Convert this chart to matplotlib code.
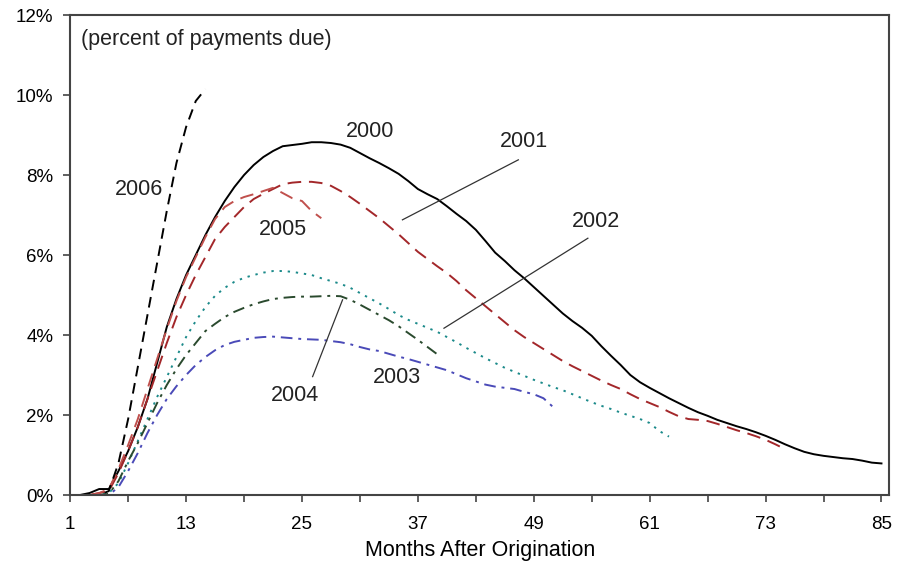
import matplotlib
matplotlib.use("Agg")
import matplotlib.pyplot as plt
import numpy as np

plt.rcParams['font.family'] = ['Liberation Sans', 'DejaVu Sans']

# delinquency rate (percent of payments due) by months after origination
y2000 = [0, 0, 0.05, 0.15, 0.15, 0.6, 1.1, 1.7, 2.4, 3.3, 4.2, 4.9, 5.5, 6.0, 6.5,
         6.95, 7.35, 7.7, 8.0, 8.25, 8.45, 8.6, 8.72, 8.75, 8.78, 8.82, 8.82, 8.8,
         8.76, 8.68, 8.55, 8.42, 8.3, 8.17, 8.03, 7.85, 7.65, 7.52, 7.4, 7.22, 7.03,
         6.85, 6.63, 6.35, 6.06, 5.85, 5.62, 5.42, 5.2, 4.98, 4.76, 4.54, 4.35, 4.18,
         3.98, 3.72, 3.48, 3.25, 3.0, 2.82, 2.68, 2.55, 2.42, 2.3, 2.18, 2.07, 1.98,
         1.88, 1.8, 1.72, 1.65, 1.57, 1.48, 1.38, 1.27, 1.17, 1.08, 1.02, 0.98, 0.95,
         0.92, 0.9, 0.86, 0.81, 0.79]
y2001 = [0, 0, 0, 0.05, 0.1, 0.55, 1.1, 1.7, 2.4, 3.1, 3.8, 4.45, 5.0, 5.5, 5.95,
         6.4, 6.7, 6.95, 7.2, 7.4, 7.53, 7.65, 7.77, 7.81, 7.83, 7.83, 7.8, 7.73,
         7.6, 7.45, 7.28, 7.1, 6.92, 6.72, 6.52, 6.3, 6.08, 5.9, 5.72, 5.55, 5.35,
         5.12, 4.92, 4.72, 4.52, 4.32, 4.12, 3.95, 3.8, 3.65, 3.5, 3.35, 3.22, 3.1,
         2.98, 2.86, 2.75, 2.65, 2.52, 2.4, 2.3, 2.2, 2.08, 1.97, 1.9, 1.88, 1.85,
         1.78, 1.7, 1.62, 1.55, 1.47, 1.38, 1.27, 1.15]
y2002 = [0, 0, 0, 0, 0.05, 0.3, 0.8, 1.35, 1.9, 2.45, 2.95, 3.45, 3.95, 4.35, 4.7,
         4.98, 5.18, 5.33, 5.43, 5.5, 5.56, 5.6, 5.6, 5.58, 5.54, 5.5, 5.42, 5.35,
         5.28, 5.18, 5.05, 4.92, 4.79, 4.65, 4.5, 4.38, 4.28, 4.18, 4.08, 3.95, 3.82,
         3.68, 3.55, 3.42, 3.3, 3.18, 3.08, 2.98, 2.88, 2.79, 2.7, 2.62, 2.52, 2.42,
         2.32, 2.23, 2.15, 2.06, 1.98, 1.9, 1.8, 1.6, 1.46]
y2003 = [0, 0, 0, 0, 0.0, 0.2, 0.6, 1.05, 1.55, 2.0, 2.4, 2.72, 3.0, 3.25, 3.45,
         3.62, 3.75, 3.83, 3.88, 3.93, 3.95, 3.96, 3.94, 3.92, 3.9, 3.89, 3.88, 3.85,
         3.82, 3.77, 3.7, 3.64, 3.6, 3.53, 3.46, 3.4, 3.33, 3.26, 3.19, 3.12, 3.02,
         2.92, 2.84, 2.76, 2.71, 2.68, 2.65, 2.58, 2.52, 2.42, 2.2]
y2004 = [0, 0, 0, 0, 0.03, 0.35, 0.85, 1.3, 1.8, 2.3, 2.75, 3.15, 3.5, 3.8, 4.1,
         4.28, 4.45, 4.58, 4.68, 4.77, 4.84, 4.9, 4.93, 4.95, 4.96, 4.96, 4.97, 4.98,
         4.97, 4.88, 4.76, 4.63, 4.5, 4.37, 4.22, 4.05, 3.88, 3.7, 3.52]
y2005 = [0, 0, 0, 0.05, 0.15, 0.65, 1.25, 1.9, 2.65, 3.4, 4.15, 4.85, 5.45, 5.95,
         6.45, 6.9, 7.2, 7.35, 7.45, 7.52, 7.6, 7.68, 7.55, 7.42, 7.35, 7.1, 6.92]
y2006 = [0, 0, 0, 0, 0.1, 0.8, 1.9, 3.2, 4.5, 5.8, 7.1, 8.3, 9.2, 9.85, 10.15]

series = [
    ("2000", y2000, "black", "-"),
    ("2001", y2001, "#a3272a", (0, (7, 4))),
    ("2002", y2002, "#1b8a8a", (0, (1.2, 3))),
    ("2003", y2003, "#4a4ab8", (0, (6, 3, 1.5, 3))),
    ("2004", y2004, "#2a4a2e", (0, (6, 3, 1.5, 3))),
    ("2005", y2005, "#c0504d", (0, (7, 4))),
    ("2006", y2006, "black", (0, (5.5, 3.5))),
]

# label text positions (month, pct)
labels = {"2000": (32.0, 9.1), "2001": (48.0, 8.85), "2002": (55.4, 6.85),
          "2003": (34.8, 2.95), "2004": (24.3, 2.5), "2005": (23.0, 6.65),
          "2006": (8.1, 7.65)}
# leader lines: (label end, curve end)
leaders = {"2001": ((47.4, 8.38), (35.4, 6.88)),
           "2002": ((54.6, 6.42), (39.7, 4.17)),
           "2004": ((29.2, 4.88), (26.1, 2.96))}

fig = plt.figure(figsize=(9, 5.69), dpi=100)
ax = fig.add_axes([0.078, 0.13, 0.91, 0.8436])

for name, vals, col, ls in series:
    months = np.arange(1, len(vals) + 1)
    ax.plot(months, vals, color=col, linestyle=ls, linewidth=1.4)

for name, (lx, ly) in labels.items():
    ax.text(lx, ly, name, fontsize=15.5, ha="center", va="center", color="#222222")

for name, (p0, p1) in leaders.items():
    ax.plot([p0[0], p1[0]], [p0[1], p1[1]], color="#333333", linewidth=0.9)

ax.text(2.1, 11.38, "(percent of payments due)", fontsize=15.5, ha="left",
        va="center", color="#222222")

ax.set_xlim(1, 85.8)
ax.set_ylim(0, 12)
ax.set_xticks(np.arange(1, 86, 12))
ax.set_xticks(np.arange(7, 86, 12), minor=True)
ax.set_yticks(np.arange(0, 13, 2))
ax.set_yticklabels([f"{v}%" for v in range(0, 13, 2)])
ax.tick_params(axis="both", which="both", direction="out", length=5, width=1.2,
               color="#444444", labelsize=13.5)
ax.tick_params(axis="x", pad=10)
ax.tick_params(axis="y", pad=7)
ax.set_xlabel("Months After Origination", fontsize=15.5, labelpad=5)
for sp in ax.spines.values():
    sp.set_color("#444444")
    sp.set_linewidth(1.5)

plt.savefig("out.png", dpi=100)
